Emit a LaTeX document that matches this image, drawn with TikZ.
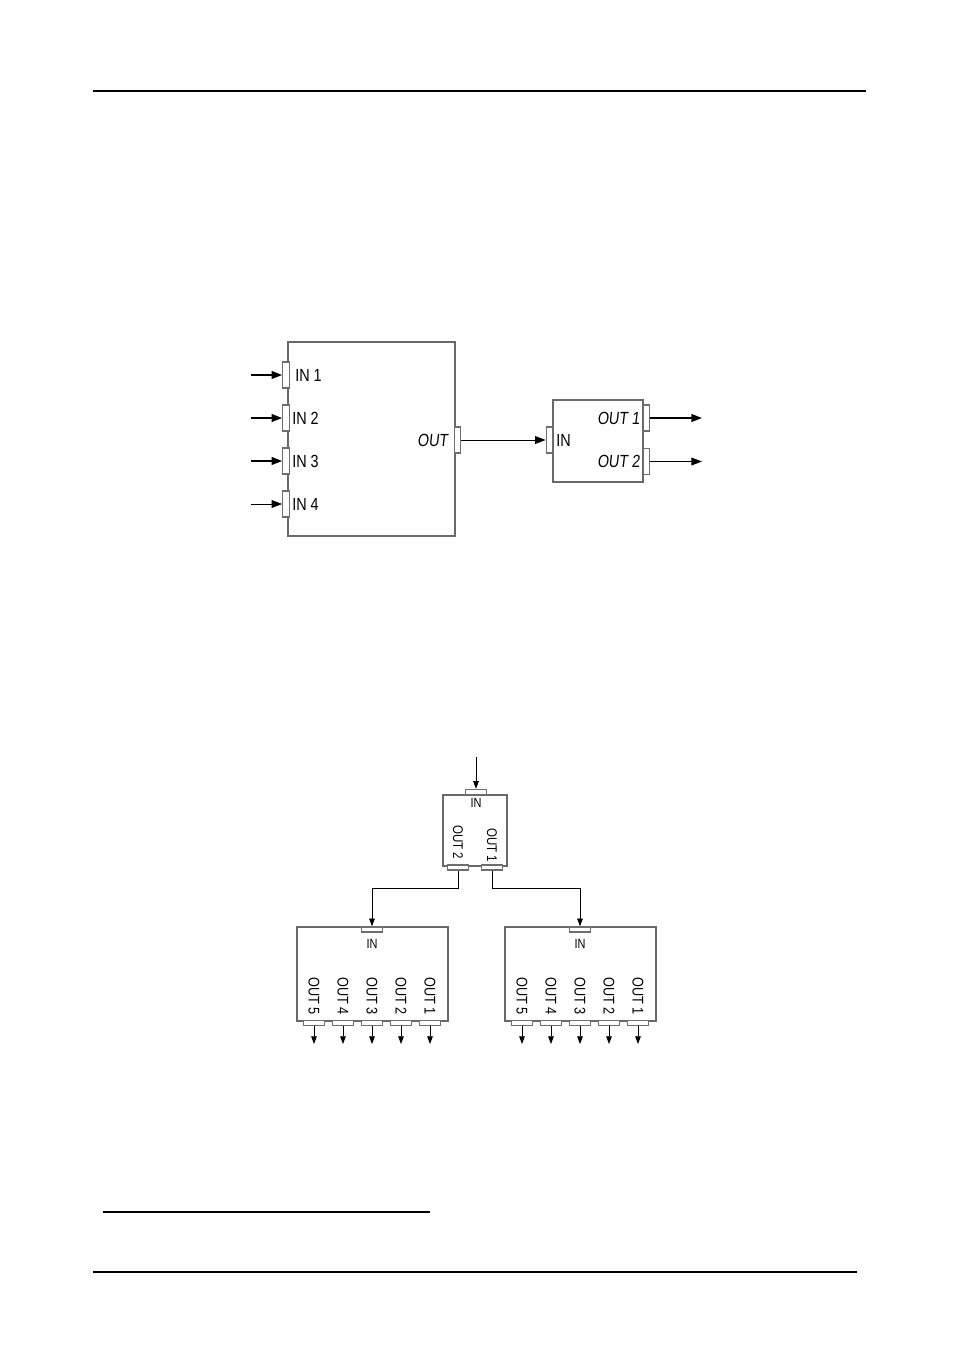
\documentclass[tikz,border=0pt]{standalone}
\usepackage{fontspec}
\usepackage{tikz}
\usetikzlibrary{arrows.meta}
\newfontfamily\portfont[FakeStretch=0.82]{Liberation Sans}
\newfontfamily\portfontsl[FakeStretch=0.82,FakeSlant=0.12]{Liberation Sans}
\definecolor{boxgray}{RGB}{105,105,105}
\definecolor{portgray}{RGB}{110,110,110}

\begin{document}
\begin{tikzpicture}[x=0.025cm, y=-0.025cm, >={Triangle[length=7.5pt,width=5.5pt]},
  unitbox/.style={draw=boxgray, line width=0.9pt, inner sep=0},
  vport/.style={draw=portgray, fill=white, line width=0.9pt, inner sep=0,
    minimum width=0.16cm, minimum height=0.65cm},
  hport/.style={draw=portgray, fill=white, line width=0.9pt, inner sep=0,
    minimum width=0.52cm, minimum height=0.13cm},
  biglabel/.style={font=\portfont\fontsize{12.5}{14}\selectfont, inner sep=0},
  outlabel/.style={font=\portfontsl\fontsize{12.5}{14}\selectfont, inner sep=0},
  vlabel/.style={font=\portfont\fontsize{11}{12}\selectfont, inner sep=0,
    rotate=-90, anchor=west},
  inlabel/.style={font=\portfont\fontsize{9.5}{10}\selectfont, inner sep=0},
  feed/.style={->, line width=1.2pt},
  thinfeed/.style={->, line width=0.7pt},
  drop/.style={-{Triangle[length=5.5pt,width=4pt]}, line width=0.6pt},
]

  % page frame
  \useasboundingbox (0,0) rectangle (954,1351);
  \draw[line width=1pt] (93,91) -- (866,91);
  \draw[line width=1pt] (103,1212) -- (430,1212);
  \draw[line width=1pt] (93,1272) -- (857,1272);

  % --- top: 4-input switcher feeding a 1:2 distributor ---
  \node[unitbox, minimum width=4.175cm, minimum height=4.85cm] (switcher) at (371.5,439) {};
  \node[unitbox, minimum width=2.25cm, minimum height=2.05cm] (splitA) at (598,441) {};

  % input ports
  \node[vport] (in1) at (286,375) {};
  \node[vport] (in2) at (286,418) {};
  \node[vport] (in3) at (286,461) {};
  \node[vport] (in4) at (286,504) {};
  \node[biglabel, anchor=west] (lin1) at (295,375) {IN 1};
  \node[biglabel, anchor=west] (lin2) at (292,418) {IN 2};
  \node[biglabel, anchor=west] (lin3) at (292,461) {IN 3};
  \node[biglabel, anchor=west] (lin4) at (292,504) {IN 4};
  \coordinate (src1) at (251,375);
  \coordinate (src2) at (251,418);
  \coordinate (src3) at (251,461);
  \coordinate (src4) at (251,504);
  \draw[feed] (src1) -- (in1.west);
  \draw[feed] (src2) -- (in2.west);
  \draw[feed] (src3) -- (in3.west);
  \draw[thinfeed] (src4) -- (in4.west);

  % switcher output into the distributor
  \node[vport] (swout) at (457.5,440) {};
  \node[outlabel, anchor=east] (lswout) at (448,440) {OUT};
  \node[vport] (splAin) at (549.5,440) {};
  \node[biglabel, anchor=west] (lsplAin) at (556,440) {IN};
  \draw[thinfeed] (swout.east) -- (splAin.west);

  % distributor outputs
  \node[vport] (splAo1) at (646.5,418) {};
  \node[vport] (splAo2) at (646.5,461.5) {};
  \node[outlabel, anchor=east] (lsplAo1) at (640,418) {OUT 1};
  \node[outlabel, anchor=east] (lsplAo2) at (640,461.5) {OUT 2};
  \coordinate (dstA1) at (702,418);
  \coordinate (dstA2) at (702,461.5);
  \draw[feed] (splAo1.east) -- (dstA1);
  \draw[thinfeed] (splAo2.east) -- (dstA2);

  % --- bottom: 1:2 splitter cascaded into two 1:5 distributors ---
  \node[unitbox, minimum width=1.6cm, minimum height=1.775cm] (splitB) at (475,830.5) {};
  \node[hport] (splBin) at (476,792) {};
  \node[inlabel] (lsplBin) at (476,803) {IN};
  \coordinate (srcB) at (476,757);
  \draw[drop] (srcB) -- (splBin.north);
  \node[hport] (splBo2) at (458,867.5) {};
  \node[hport] (splBo1) at (492,867.5) {};
  \node[vlabel, font=\portfont\fontsize{10}{12}\selectfont] (lsplBo2) at (458,825) {OUT 2};
  \node[vlabel, font=\portfont\fontsize{10}{12}\selectfont] (lsplBo1) at (492,828) {OUT 1};

  \node[unitbox, minimum width=3.775cm, minimum height=2.35cm] (daL) at (372.5,974) {};
  \node[unitbox, minimum width=3.775cm, minimum height=2.35cm] (daR) at (580.5,974) {};
  \node[hport] (daLin) at (372,929.5) {};
  \node[hport] (daRin) at (580,929.5) {};
  \node[inlabel] (ldaLin) at (372,944) {IN};
  \node[inlabel] (ldaRin) at (580,944) {IN};
  \draw[drop] (splBo2.south) -- ++(0,18) -| (daLin.north);
  \draw[drop] (splBo1.south) -- ++(0,18) -| (daRin.north);

  % left distributor outputs
  \node[hport] (daL5) at (314,1023) {}; \node[vlabel] (ldaL5) at (314,977) {OUT 5};
  \node[hport] (daL4) at (343,1023) {}; \node[vlabel] (ldaL4) at (343,977) {OUT 4};
  \node[hport] (daL3) at (372,1023) {}; \node[vlabel] (ldaL3) at (372,977) {OUT 3};
  \node[hport] (daL2) at (401,1023) {}; \node[vlabel] (ldaL2) at (401,977) {OUT 2};
  \node[hport] (daL1) at (430,1023) {}; \node[vlabel] (ldaL1) at (430,977) {OUT 1};
  \coordinate (endL5) at (314,1044);
  \coordinate (endL4) at (343,1044);
  \coordinate (endL3) at (372,1044);
  \coordinate (endL2) at (401,1044);
  \coordinate (endL1) at (430,1044);
  \draw[drop] (daL5.south) -- (endL5);
  \draw[drop] (daL4.south) -- (endL4);
  \draw[drop] (daL3.south) -- (endL3);
  \draw[drop] (daL2.south) -- (endL2);
  \draw[drop] (daL1.south) -- (endL1);

  % right distributor outputs
  \node[hport] (daR5) at (522,1023) {}; \node[vlabel] (ldaR5) at (522,977) {OUT 5};
  \node[hport] (daR4) at (551,1023) {}; \node[vlabel] (ldaR4) at (551,977) {OUT 4};
  \node[hport] (daR3) at (580,1023) {}; \node[vlabel] (ldaR3) at (580,977) {OUT 3};
  \node[hport] (daR2) at (609,1023) {}; \node[vlabel] (ldaR2) at (609,977) {OUT 2};
  \node[hport] (daR1) at (638,1023) {}; \node[vlabel] (ldaR1) at (638,977) {OUT 1};
  \coordinate (endR5) at (522,1044);
  \coordinate (endR4) at (551,1044);
  \coordinate (endR3) at (580,1044);
  \coordinate (endR2) at (609,1044);
  \coordinate (endR1) at (638,1044);
  \draw[drop] (daR5.south) -- (endR5);
  \draw[drop] (daR4.south) -- (endR4);
  \draw[drop] (daR3.south) -- (endR3);
  \draw[drop] (daR2.south) -- (endR2);
  \draw[drop] (daR1.south) -- (endR1);

\end{tikzpicture}
\end{document}
